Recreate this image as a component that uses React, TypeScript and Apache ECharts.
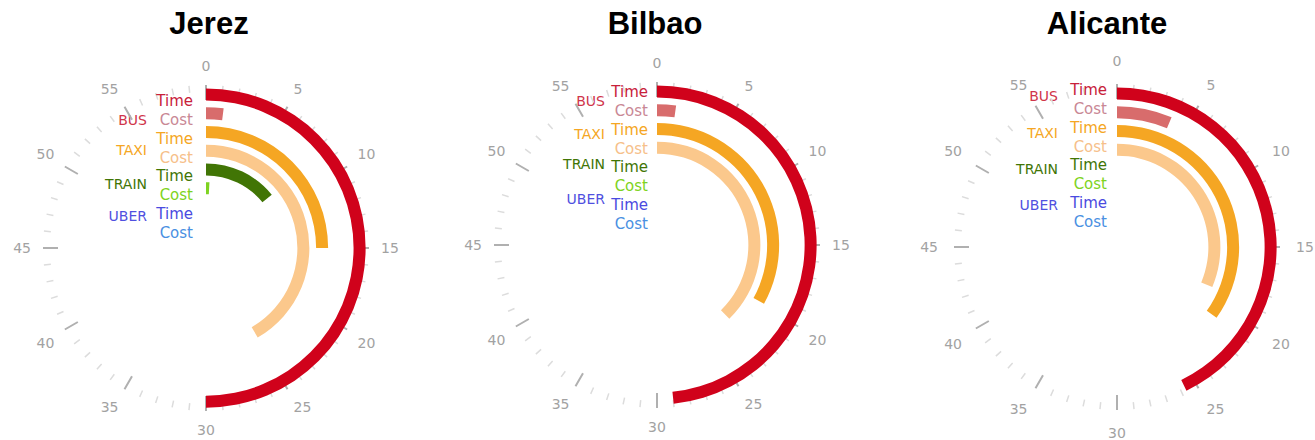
import React, { useEffect, useRef } from "react";
import * as echarts from "echarts";

const cities = ["Jerez", "Bilbao", "Alicante"];
const rows = ["BUS Time", "BUS Cost", "TAXI Time", "TAXI Cost", "TRAIN Time", "TRAIN Cost", "UBER Time", "UBER Cost"];
const modes = ["BUS", "TAXI", "TRAIN", "UBER"];
const jerezValues = [30, 1.2, 15, 25, 8.5, 0.5, 0, 0];
const bilbaoValues = [29, 1.3, 19.8, 22.6, 0, 0, 0, 0];
const alicanteValues = [25.7, 3.8, 20.9, 18.8, 0, 0, 0, 0];
const minuteTicks = [0, 5, 10, 15, 20, 25, 30, 35, 40, 45, 50, 55];

const barColors = ["#d0021b", "#d86c6c", "#f5a623", "#fbc88c", "#417505", "#7ed321", "#5a5ae6", "#4a90e2"];
const labelColors = ["#c8203a", "#c98895", "#f5a623", "#f6c08a", "#417505", "#7ed321", "#4a4ae0", "#4a90e2"];
const modeColors = ["#d0354a", "#f5a623", "#417505", "#5050e0"];

const layout = [
  { cx: 206, cy: 248, title: 209, tickMargin: 12, rowMargin: 13, rowShift: 7, modeRight: 59, modeR: [128, 98, 64, 32] },
  { cx: 657, cy: 245, title: 655, tickMargin: 12, rowMargin: 9, rowShift: 1, modeRight: 52, modeR: [144, 111, 81, 46] },
  { cx: 1117, cy: 247, title: 1107, tickMargin: 16, rowMargin: 10, rowShift: -3, modeRight: 59, modeR: [151, 114, 78, 42] },
];
const R_IN = 13;
const R_OUT = 163;

export default function App() {
  const ref = useRef<HTMLDivElement>(null);
  useEffect(() => {
    if (!ref.current) return;
    const chart = echarts.init(ref.current, null, { renderer: "svg" });
    const values = [jerezValues, bilbaoValues, alicanteValues];
    const graphics: any[] = [];
    layout.forEach((l) => {
      modes.forEach((m, j) => {
        graphics.push({
          type: "text",
          x: l.cx - l.modeRight,
          y: l.cy - l.modeR[j],
          style: {
            text: m,
            fill: modeColors[j],
            font: "14px 'DejaVu Sans'",
            textAlign: "right",
            textVerticalAlign: "middle",
          },
        });
      });
    });
    const makeRich = (shift: number) => {
      const rich: any = {};
      rows.forEach((_, k) => {
        rich["r" + k] = {
          color: labelColors[k],
          fontSize: 15,
          fontFamily: "DejaVu Sans",
          padding: shift >= 0 ? [2 * shift, 0, 0, 0] : [0, 0, -2 * shift, 0],
        };
      });
      return rich;
    };
    chart.setOption({
      animation: false,
      backgroundColor: "#ffffff",
      title: layout.map((l, i) => ({
        text: cities[i],
        left: l.title,
        top: 8,
        padding: 0,
        textAlign: "center",
        textStyle: { fontSize: 31, fontWeight: "bold", color: "#000", fontFamily: "Liberation Sans" },
      })),
      polar: layout.map((l) => ({ center: [l.cx, l.cy], radius: [R_IN, R_OUT] })),
      angleAxis: layout.map((l, i) => ({
        polarIndex: i,
        type: "value",
        min: 0,
        max: 60,
        interval: 5,
        startAngle: 90,
        clockwise: true,
        axisLine: { show: false },
        axisTick: { show: true, inside: true, length: 15, lineStyle: { color: "#b0b0b0", width: 2 } },
        minorTick: { show: true, splitNumber: 5, length: 7, lineStyle: { color: "#dcdcdc", width: 1.5 } },
        splitLine: { show: false },
        minorSplitLine: { show: false },
        axisLabel: {
          margin: l.tickMargin,
          color: "#a2a2a2",
          fontSize: 14,
          fontFamily: "DejaVu Sans",
          formatter: (v: number) => (minuteTicks.includes(v) ? String(v) : ""),
        },
      })),
      radiusAxis: layout.map((l, i) => ({
        polarIndex: i,
        type: "category",
        data: rows,
        inverse: true,
        axisLine: { show: false },
        axisTick: { show: false },
        splitLine: { show: false },
        axisLabel: {
          interval: 0,
          margin: l.rowMargin,
          formatter: (v: string, idx: number) => `{r${idx}|${v.split(" ")[1]}}`,
          rich: makeRich(l.rowShift),
        },
      })),
      series: values.map((vals, i) => ({
        type: "bar",
        coordinateSystem: "polar",
        polarIndex: i,
        barWidth: 12,
        data: vals.map((v, k) => ({ value: v, itemStyle: { color: barColors[k] } })),
      })),
      graphic: graphics,
    });
    return () => chart.dispose();
  }, []);
  return <div ref={ref} style={{ position: "fixed", left: 0, top: 0, width: 1315, height: 440 }} />;
}
